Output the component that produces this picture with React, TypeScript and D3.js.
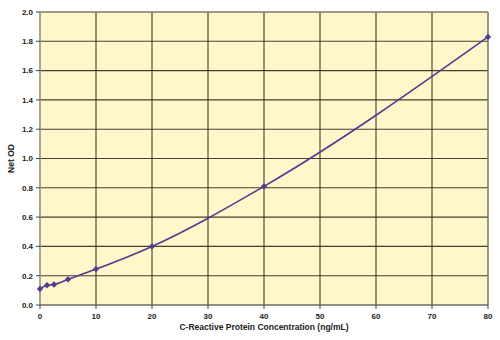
import React from "react";
import * as d3 from "d3";

const concentrations = [0, 1.25, 2.5, 5, 10, 20, 40, 80];
const netOD = [0.11, 0.135, 0.14, 0.175, 0.245, 0.4, 0.81, 1.83];
const xTicks = [0, 10, 20, 30, 40, 50, 60, 70, 80];
const yTicks = [0, 0.2, 0.4, 0.6, 0.8, 1.0, 1.2, 1.4, 1.6, 1.8, 2.0];

export default function App() {
  const W = 500, H = 340;
  const m = { left: 40, right: 488, top: 12, bottom: 305 };
  const x = d3.scaleLinear().domain([0, 80]).range([m.left, m.right]);
  const y = d3.scaleLinear().domain([0, 2]).range([m.bottom, m.top]);
  const pts = concentrations.map((c, i) => [c, netOD[i]] as [number, number]);
  const line = d3.line<[number, number]>().x(d => x(d[0])).y(d => y(d[1])).curve(d3.curveMonotoneX);
  const font = "Arial, 'Liberation Sans', sans-serif";
  const purple = "#4f3d8f";
  return (
    <svg width={W} height={H} style={{ position: "absolute", left: 0, top: 0 }}>
      <rect x={m.left} y={m.top} width={m.right - m.left} height={m.bottom - m.top} fill="#fff6c9" />
      {yTicks.slice(1).map(t => (
        <line key={"gy" + t} x1={m.left} x2={m.right} y1={y(t)} y2={y(t)} stroke="#2e2c20" strokeWidth={1.1} opacity={0.9} />
      ))}
      {xTicks.slice(1).map(t => (
        <line key={"gx" + t} x1={x(t)} x2={x(t)} y1={m.top} y2={m.bottom} stroke="#2e2c20" strokeWidth={1.1} opacity={0.9} />
      ))}
      <rect x={m.left} y={m.top} width={m.right - m.left} height={m.bottom - m.top} fill="none" stroke="#9a9a80" strokeWidth={1} />
      <line x1={m.left} x2={m.left} y1={m.top} y2={m.bottom} stroke="#8a8a8a" strokeWidth={1.2} />
      <line x1={m.left} x2={m.right} y1={m.bottom} y2={m.bottom} stroke="#555" strokeWidth={1.2} />
      {yTicks.map(t => (
        <g key={"ty" + t}>
          <line x1={m.left - 4} x2={m.left} y1={y(t)} y2={y(t)} stroke="#444" />
          <text x={m.left - 7} y={y(t)} dy="0.35em" textAnchor="end" fontFamily={font} fontSize={8} fontWeight="bold" fill="#222">
            {t.toFixed(1)}
          </text>
        </g>
      ))}
      {xTicks.map(t => (
        <g key={"tx" + t}>
          <line x1={x(t)} x2={x(t)} y1={m.bottom} y2={m.bottom + 4} stroke="#444" />
          <text x={x(t)} y={m.bottom + 14} textAnchor="middle" fontFamily={font} fontSize={8} fontWeight="bold" fill="#222">
            {t}
          </text>
        </g>
      ))}
      <path d={line(pts) || ""} fill="none" stroke={purple} strokeWidth={1.6} />
      {pts.map((p, i) => (
        <path key={i} d="M0,-3.2L3.2,0L0,3.2L-3.2,0Z" transform={`translate(${x(p[0])},${y(p[1])})`} fill={purple} />
      ))}
      <text x={264} y={330} textAnchor="middle" fontFamily={font} fontSize={8.5} fontWeight="bold" fill="#222">
        C-Reactive Protein Concentration (ng/mL)
      </text>
      <text transform={`translate(14,${(m.top + m.bottom) / 2}) rotate(-90)`} textAnchor="middle" fontFamily={font} fontSize={8.5} fontWeight="bold" fill="#222">
        Net OD
      </text>
    </svg>
  );
}
